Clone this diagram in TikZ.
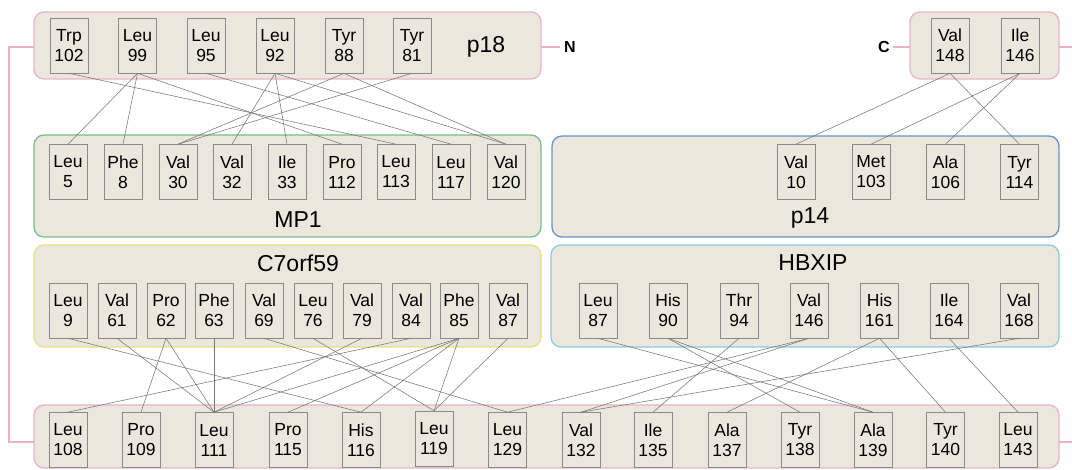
\documentclass[tikz,border=0pt]{standalone}
\usepackage{fontspec}
\setmainfont{Liberation Sans}
\definecolor{beige}{HTML}{EBE7DC}
\definecolor{pinkc}{HTML}{E8B3C8}
\definecolor{greenc}{HTML}{74C088}
\definecolor{bluec}{HTML}{6395CB}
\definecolor{yellowc}{HTML}{E6E17C}
\definecolor{lbluec}{HTML}{8ACBE2}
\definecolor{resgray}{HTML}{8A8A8A}
\definecolor{linegray}{HTML}{777777}
\begin{document}
\begin{tikzpicture}[x=1pt,y=-1pt,
  res/.style={draw=resgray, fill=beige, line width=0.6pt, minimum width=38pt, minimum height=55pt, inner sep=0pt, align=center, font=\fontsize{17.5}{20}\selectfont},
  cont/.style={rounded corners=10pt, fill=beige, line width=1.3pt},
  lab/.style={font=\fontsize{23}{26}\selectfont},
  term/.style={font=\fontsize{16}{18}\selectfont\bfseries},
  link/.style={draw=linegray, line width=0.55pt},
  pinkline/.style={draw=pinkc, line width=1.3pt}]
\useasboundingbox (0,0) rectangle (1072,470);
% containers
\draw[cont, draw=pinkc] (34,12) rectangle (541,79);
\draw[cont, draw=pinkc] (910,12) rectangle (1059,79);
\draw[cont, draw=greenc] (34,135) rectangle (541,237);
\draw[cont, draw=bluec] (552,136) rectangle (1059,237);
\draw[cont, draw=yellowc] (34,245) rectangle (541,347);
\draw[cont, draw=lbluec] (551,245) rectangle (1059,347);
\draw[cont, draw=pinkc] (34,405) rectangle (1059,468);
% terminal connectors
\coordinate (lt) at (34,47);
\coordinate (lb) at (34,442);
\draw[pinkline] (lt) -- (9,47) -- (9,442) -- (lb);
\draw[pinkline] (541,47) -- (560,47);
\draw[pinkline] (893,47) -- (910,47);
\draw[pinkline] (1059,47) -- (1072,47);
\draw[pinkline] (1059,442) -- (1072,442);
\node[term] (nN) at (570,47) {N};
\node[term] (nC) at (884,47) {C};
% labels
\node[lab] (lp18) at (486,47) {p18};
\node[lab] (lmp1) at (298,220) {MP1};
\node[lab] (lp14) at (810,218) {p14};
\node[lab] (lc7) at (298,263) {C7orf59};
\node[lab] (lhb) at (813,263) {HBXIP};
% p18 residues
\node[res] (t102) at (69,45.5) {Trp\\102};
\node[res] (t99) at (137.5,45.5) {Leu\\99};
\node[res] (t95) at (206,45.5) {Leu\\95};
\node[res] (t92) at (275,45.5) {Leu\\92};
\node[res] (t88) at (344,45.5) {Tyr\\88};
\node[res] (t81) at (412,45.5) {Tyr\\81};
\node[res] (v148) at (950,45.5) {Val\\148};
\node[res] (i146) at (1020,45.5) {Ile\\146};
% MP1
\node[res] (m5) at (68,172) {Leu\\5};
\node[res] (m8) at (123,172) {Phe\\8};
\node[res] (m30) at (178,172) {Val\\30};
\node[res] (m32) at (232,172) {Val\\32};
\node[res] (m33) at (287,172) {Ile\\33};
\node[res] (m112) at (342,172) {Pro\\112};
\node[res] (m113) at (396,172) {Leu\\113};
\node[res] (m117) at (451,172) {Leu\\117};
\node[res] (m120) at (506,172) {Val\\120};
% p14
\node[res] (p10) at (796,172) {Val\\10};
\node[res] (p103) at (871,172) {Met\\103};
\node[res] (p106) at (945.5,172) {Ala\\106};
\node[res] (p114) at (1019.5,172) {Tyr\\114};
% C7orf59
\node[res] (c9) at (68,310.5) {Leu\\9};
\node[res] (c61) at (117,310.5) {Val\\61};
\node[res] (c62) at (166,310.5) {Pro\\62};
\node[res] (c63) at (214,310.5) {Phe\\63};
\node[res] (c69) at (264,310.5) {Val\\69};
\node[res] (c76) at (313,310.5) {Leu\\76};
\node[res] (c79) at (362,310.5) {Val\\79};
\node[res] (c84) at (411,310.5) {Val\\84};
\node[res] (c85) at (459,310.5) {Phe\\85};
\node[res] (c87) at (508,310.5) {Val\\87};
% HBXIP
\node[res] (h87) at (598,310.5) {Leu\\87};
\node[res] (h90) at (668,310.5) {His\\90};
\node[res] (h94) at (739,310.5) {Thr\\94};
\node[res] (h146) at (809,310.5) {Val\\146};
\node[res] (h161) at (879.5,310.5) {His\\161};
\node[res] (h164) at (949,310.5) {Ile\\164};
\node[res] (h168) at (1019,310.5) {Val\\168};
% bottom
\node[res] (b108) at (68,440) {Leu\\108};
\node[res] (b109) at (141,440) {Pro\\109};
\node[res] (b111) at (214,440) {Leu\\111};
\node[res] (b115) at (288,440) {Pro\\115};
\node[res] (b116) at (361,440) {His\\116};
\node[res] (b119) at (434,438.5) {Leu\\119};
\node[res] (b129) at (507.5,440) {Leu\\129};
\node[res] (b132) at (581,440) {Val\\132};
\node[res] (b135) at (653,440) {Ile\\135};
\node[res] (b137) at (727,440) {Ala\\137};
\node[res] (b138) at (800,440) {Tyr\\138};
\node[res] (b139) at (873,440) {Ala\\139};
\node[res] (b140) at (945.5,440) {Tyr\\140};
\node[res] (b143) at (1018,440) {Leu\\143};
% links
\foreach \a/\b in {t99/m5, t99/m8, t88/m30, t81/m30, t92/m32, t92/m33, t99/m112, t102/m113, t95/m117, t92/m120, t88/m120,
  v148/p10, v148/p114, i146/p103, i146/p106,
  c9/b116, c61/b111, c62/b109, c62/b111, c63/b111, c69/b129, c76/b119, c79/b111, c84/b108, c85/b111, c85/b115, c85/b116, c85/b119, c87/b119,
  h87/b139, h90/b138, h90/b139, h94/b135, h146/b132, h146/b129, h161/b137, h161/b140, h164/b143, h168/b132}
  \draw[link] (\a.south) -- (\b.north);
\end{tikzpicture}
\end{document}
